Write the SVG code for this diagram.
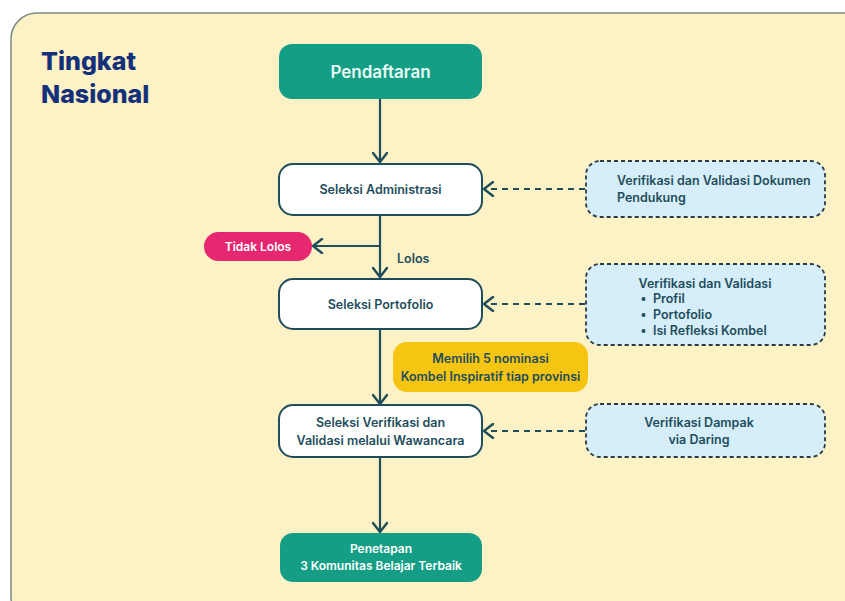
<svg xmlns="http://www.w3.org/2000/svg" width="845" height="601" viewBox="0 0 845 601">
<defs>
<marker id="arr" viewBox="0 0 12 12" refX="10" refY="6" markerWidth="12" markerHeight="12" markerUnits="userSpaceOnUse" orient="auto">
<path d="M2,1 L10,6 L2,11" fill="none" stroke="#1e4d5c" stroke-width="2.2" stroke-linecap="round" stroke-linejoin="round"/>
</marker>
<marker id="arrL" viewBox="0 0 16 16" refX="13" refY="8" markerWidth="16" markerHeight="16" markerUnits="userSpaceOnUse" orient="auto">
<path d="M4,1 L13,8 L4,15" fill="none" stroke="#1e4d5c" stroke-width="2.4" stroke-linecap="round" stroke-linejoin="round"/>
</marker>
</defs>
<style>
text{font-family:Inter,"Open Sans","Liberation Sans",sans-serif;}
.title{font-size:25px;font-weight:800;fill:#14307a;}
.node{fill:#ffffff;stroke:#1e4d5c;stroke-width:2;}
.teal{fill:#139e85;}
.lbl{font-size:12.5px;font-weight:600;fill:#1e4d5c;text-anchor:middle;}
.wl{font-size:12px;font-weight:600;fill:#ffffff;text-anchor:middle;}
.side{fill:#d6eefa;stroke:#2a3a48;stroke-width:1.8;stroke-dasharray:4 3;}
.line{fill:none;stroke:#1e4d5c;stroke-width:2.2;}
.dash{fill:none;stroke:#1e4d5c;stroke-width:2.2;stroke-dasharray:6 5;}
</style>
<rect x="0" y="0" width="845" height="601" fill="#ffffff"/>
<rect id="panel" x="11" y="13" width="860" height="610" rx="26" fill="#fdf1c6" stroke="#7c8c84" stroke-width="1.5"/>
<g id="title">
<text class="title" x="41" y="70">Tingkat</text>
<text class="title" x="41" y="103">Nasional</text>
</g>
<g id="connectors">
<line class="line" x1="380" y1="99" x2="380" y2="162" marker-end="url(#arrL)"/>
<line class="line" x1="380" y1="215" x2="380" y2="277" marker-end="url(#arrL)"/>
<line class="line" x1="380" y1="246" x2="313" y2="246" marker-end="url(#arrL)"/>
<line class="line" x1="380" y1="329" x2="380" y2="404" marker-end="url(#arrL)"/>
<line class="line" x1="380" y1="457" x2="380" y2="532" marker-end="url(#arrL)"/>
<line class="dash" x1="585" y1="189" x2="484" y2="189" marker-end="url(#arrL)"/>
<line class="dash" x1="585" y1="304" x2="484" y2="304" marker-end="url(#arrL)"/>
<line class="dash" x1="585" y1="431" x2="484" y2="431" marker-end="url(#arrL)"/>
<text x="397" y="263" style="font-size:12.5px;font-weight:600;fill:#1e4d5c;">Lolos</text>
</g>
<g id="pendaftaran">
<rect class="teal" x="279" y="44" width="203" height="55" rx="13"/>
<text x="380.5" y="78" style="font-size:17px;font-weight:600;fill:#eafaf5;text-anchor:middle;">Pendaftaran</text>
</g>
<g id="seleksi-administrasi">
<rect class="node" x="279" y="164" width="203" height="51" rx="14"/>
<text class="lbl" x="380.5" y="194">Seleksi Administrasi</text>
</g>
<g id="tidak-lolos">
<rect x="204" y="232" width="108" height="29" rx="14.5" fill="#e5286f"/>
<text class="wl" x="258" y="251">Tidak Lolos</text>
</g>
<g id="seleksi-portofolio">
<rect class="node" x="279" y="279" width="203" height="50" rx="14"/>
<text class="lbl" x="380.5" y="309">Seleksi Portofolio</text>
</g>
<g id="nominasi">
<rect x="393" y="342" width="195" height="50" rx="14" fill="#f6c511"/>
<text class="lbl" x="490.5" y="363" style="fill:#1e4d5c;">Memilih 5 nominasi</text>
<text class="lbl" x="490.5" y="381" style="fill:#1e4d5c;">Kombel Inspiratif tiap provinsi</text>
</g>
<g id="seleksi-wawancara">
<rect class="node" x="279" y="405" width="203" height="52" rx="14"/>
<text class="lbl" x="380.5" y="427">Seleksi Verifikasi dan</text>
<text class="lbl" x="380.5" y="445">Validasi melalui Wawancara</text>
</g>
<g id="penetapan">
<rect class="teal" x="280" y="533" width="202" height="49" rx="13"/>
<text class="wl" x="381" y="553">Penetapan</text>
<text class="wl" x="381" y="570">3 Komunitas Belajar Terbaik</text>
</g>
<g id="verif-dokumen">
<rect class="side" x="586" y="161" width="239" height="56" rx="14"/>
<text class="lbl" x="617" y="185" style="text-anchor:start;">Verifikasi dan Validasi Dokumen</text>
<text class="lbl" x="617" y="202" style="text-anchor:start;">Pendukung</text>
</g>
<g id="verif-portofolio">
<rect class="side" x="586" y="264" width="239" height="81" rx="14"/>
<text class="lbl" x="705" y="288">Verifikasi dan Validasi</text>
<circle cx="643.5" cy="299" r="2" fill="#1e4d5c"/>
<text class="lbl" x="653" y="303" style="text-anchor:start;">Profil</text>
<circle cx="643.5" cy="315" r="2" fill="#1e4d5c"/>
<text class="lbl" x="653" y="319" style="text-anchor:start;">Portofolio</text>
<circle cx="643.5" cy="331" r="2" fill="#1e4d5c"/>
<text class="lbl" x="653" y="335" style="text-anchor:start;">Isi Refleksi Kombel</text>
</g>
<g id="verif-dampak">
<rect class="side" x="586" y="404" width="239" height="53" rx="14"/>
<text class="lbl" x="699" y="427">Verifikasi Dampak</text>
<text class="lbl" x="699" y="444">via Daring</text>
</g>
</svg>
